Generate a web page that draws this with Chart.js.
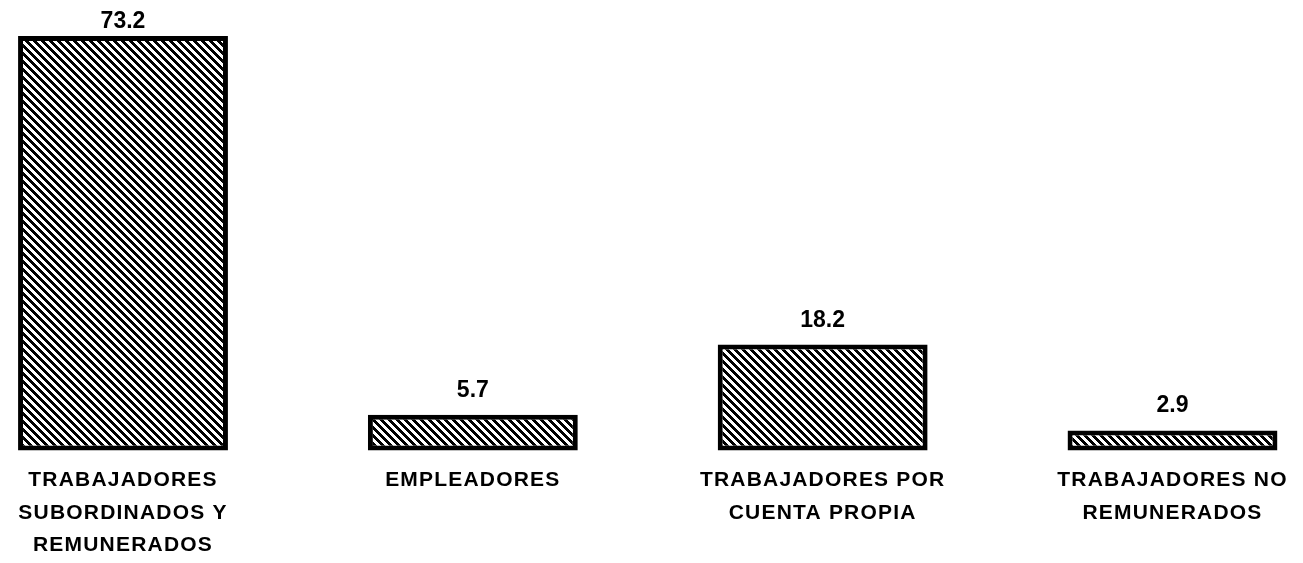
<!DOCTYPE html>
<html><head><meta charset="utf-8">
<script src="https://cdn.jsdelivr.net/npm/chart.js@4.4.0/dist/chart.umd.min.js"></script>
<style>html,body{margin:0;padding:0;background:#fff;}canvas{display:block;}</style>
</head><body>
<canvas id="c" width="1303" height="563"></canvas>
<script>
const categories = [
  ["TRABAJADORES", "SUBORDINADOS Y", "REMUNERADOS"],
  ["EMPLEADORES"],
  ["TRABAJADORES POR", "CUENTA PROPIA"],
  ["TRABAJADORES NO", "REMUNERADOS"]
];
const values = [73.2, 5.7, 18.2, 2.9];
const valueLabels = ["73.2", "5.7", "18.2", "2.9"];

const canvas = document.getElementById('c');
const ctx = canvas.getContext('2d');

function makeHatch() {
  const s = 8;
  const tile = document.createElement('canvas');
  tile.width = s; tile.height = s;
  const t = tile.getContext('2d');
  const img = t.createImageData(s, s);
  for (let y = 0; y < s; y++) {
    for (let x = 0; x < s; x++) {
      const k = (((x - y) % s) + s) % s;
      const v = k < 4 ? 0 : 255;
      const p = (y * s + x) * 4;
      img.data[p] = v; img.data[p + 1] = v; img.data[p + 2] = v; img.data[p + 3] = 255;
    }
  }
  t.putImageData(img, 0, 0);
  return ctx.createPattern(tile, 'repeat');
}

const LS = '1.2px';
const spacingPlugin = {
  id: 'spacing',
  beforeUpdate(ch) { ch.ctx.letterSpacing = LS; },
  beforeLayout(ch) { ch.ctx.letterSpacing = LS; },
  beforeDraw(ch) { ch.ctx.letterSpacing = LS; }
};

const valuePlugin = {
  id: 'valueLabels',
  afterDatasetsDraw(ch) {
    const c = ch.ctx;
    const meta = ch.getDatasetMeta(0);
    c.save();
    c.letterSpacing = '0px';
    c.fillStyle = '#000';
    c.font = 'bold 23px "Liberation Sans", Arial, sans-serif';
    c.textAlign = 'center';
    c.textBaseline = 'alphabetic';
    meta.data.forEach((el, i) => {
      const y = Math.max(el.y - 18, 28);
      c.fillText(valueLabels[i], el.x, y);
    });
    c.restore();
  }
};

new Chart(ctx, {
  type: 'bar',
  data: {
    labels: categories,
    datasets: [{
      data: values,
      backgroundColor: makeHatch(),
      borderColor: '#000',
      borderWidth: 5,
      borderSkipped: false,
      barPercentage: 0.6,
      categoryPercentage: 1,
      base: -0.7,
      clip: false
    }]
  },
  options: {
    responsive: false,
    devicePixelRatio: 1,
    animation: false,
    layout: { padding: { left: 123, right: 130.5, top: 36, bottom: -12 } },
    plugins: { legend: { display: false }, tooltip: { enabled: false } },
    scales: {
      x: {
        offset: false,
        grid: { display: false, drawTicks: false },
        border: { display: false },
        ticks: {
          autoSkip: false, maxRotation: 0, minRotation: 0,
          padding: 14, color: '#000',
          font: { family: '"Liberation Sans", Arial, sans-serif', size: 21, weight: 'bold', lineHeight: 1.53 }
        }
      },
      y: { display: false, min: -0.7, max: Math.max(...values) }
    }
  },
  plugins: [spacingPlugin, valuePlugin]
});
</script>
</body></html>
